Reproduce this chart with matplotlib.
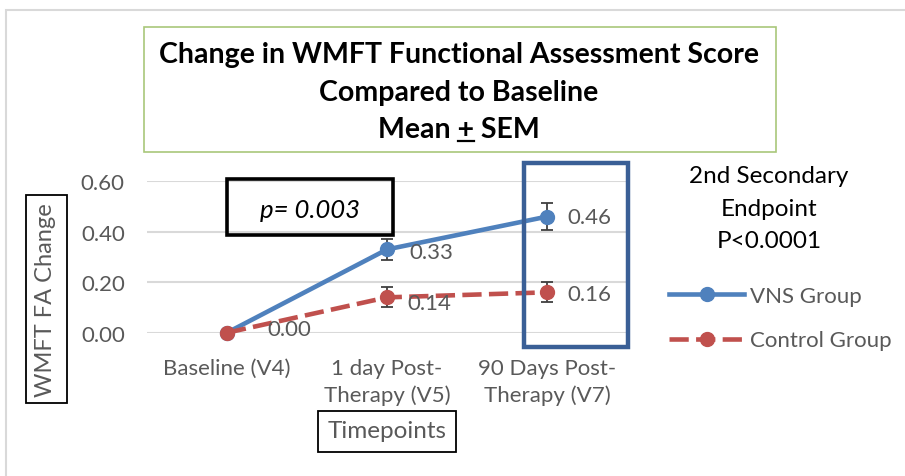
import matplotlib.pyplot as plt
from matplotlib.patches import Rectangle
from matplotlib.lines import Line2D

plt.rcParams['font.family'] = ['Lato', 'DejaVu Sans']

categories = ["Baseline (V4)", "1 day Post-\nTherapy (V5)", "90 Days Post-\nTherapy (V7)"]
vns_mean = [0.00, 0.33, 0.46]
vns_sem = [0.00, 0.043, 0.054]
ctrl_mean = [0.00, 0.14, 0.16]
ctrl_sem = [0.00, 0.04, 0.04]
y_ticks = [0.00, 0.20, 0.40, 0.60]

W, H = 905, 477
BLUE = '#4F81BD'
RED = '#C0504D'
GRAY_TXT = '#595959'


def fx(x):
    return x / W


def fy(y):
    return 1 - y / H


def box(x0, y0, x1, y1, color, lw):
    fig.patches.append(Rectangle((fx(x0), fy(y1)), fx(x1) - fx(x0), fy(y0) - fy(y1),
                                 transform=fig.transFigure, fill=False,
                                 edgecolor=color, linewidth=lw, zorder=5))


fig = plt.figure(figsize=(W / 100, H / 100), dpi=100)
ax = fig.add_axes([fx(147), fy(333.7), fx(627) - fx(147), fy(182.3) - fy(333.7)])

x = list(range(len(categories)))

# error bars first so the markers sit on top
ax.errorbar(x[1:], vns_mean[1:], yerr=vns_sem[1:], fmt='none', ecolor='#404040',
            elinewidth=1.3, capsize=4.5, capthick=1.3, zorder=3, clip_on=False)
ax.errorbar(x[1:], ctrl_mean[1:], yerr=ctrl_sem[1:], fmt='none', ecolor='#404040',
            elinewidth=1.3, capsize=4.5, capthick=1.3, zorder=3, clip_on=False)

vns_line, = ax.plot(x, vns_mean, color=BLUE, lw=3.3, marker='o', ms=10,
                    label='VNS Group', zorder=4, clip_on=False)
ctrl_line, = ax.plot(x, ctrl_mean, color=RED, lw=3.3, marker='o', ms=10,
                     dashes=(4.2, 1.6), label='Control Group', zorder=5, clip_on=False)

# data labels to the right of each point (offsets in points)
lbl_kw = dict(textcoords='offset points', ha='left', va='center',
              fontsize=16, color=GRAY_TXT, zorder=6)
ax.annotate(f"{ctrl_mean[0]:.2f}", (x[0], ctrl_mean[0]), xytext=(29, 2.5), **lbl_kw)
ax.annotate(f"{vns_mean[1]:.2f}", (x[1], vns_mean[1]), xytext=(16, -2), **lbl_kw)
ax.annotate(f"{vns_mean[2]:.2f}", (x[2], vns_mean[2]), xytext=(15, 0), **lbl_kw)
ax.annotate(f"{ctrl_mean[1]:.2f}", (x[1], ctrl_mean[1]), xytext=(15, -4), **lbl_kw)
ax.annotate(f"{ctrl_mean[2]:.2f}", (x[2], ctrl_mean[2]), xytext=(15, -1.2), **lbl_kw)

ax.set_xlim(-0.5, 2.5)
ax.set_ylim(0, 0.6)
ax.set_yticks(y_ticks)
ax.set_yticklabels([f"{v:.2f}" for v in y_ticks])
ax.set_xticks(x)
ax.set_xticklabels(categories, linespacing=1.4)
ax.tick_params(axis='both', length=0, labelsize=16, labelcolor=GRAY_TXT)
ax.tick_params(axis='y', pad=16)
ax.tick_params(axis='x', pad=18)
ax.grid(axis='y', color='#D9D9D9', lw=1.5)
ax.set_axisbelow(True)
for s in ax.spines.values():
    s.set_visible(False)

# outer chart frame
box(6, 11, 960, 520, '#D9D9D9', 1.5)

# title box
title_kw = dict(ha='center', va='center', fontsize=20.5, fontweight='bold')
box(144, 28, 776, 153, '#A9C77A', 1.2)
fig.text(fx(459), fy(55), "Change in WMFT Functional Assessment Score", **title_kw)
fig.text(fx(459), fy(93), "Compared to Baseline", **title_kw)
t3 = fig.text(fx(459), fy(130), "Mean + SEM", **title_kw)

# underline the "+" (plus-or-minus written the old way)
fig.canvas.draw()
r = fig.canvas.get_renderer()
full = t3.get_window_extent(r)
probe = fig.text(0, 0, "Mean +", **title_kw)
w_head = probe.get_window_extent(r).width
probe.set_text("+")
w_plus = probe.get_window_extent(r).width
probe.remove()
ux1 = full.x0 + w_head
ux0 = ux1 - w_plus
uy = full.y0 + 1
fig.lines.append(Line2D([ux0 / W, ux1 / W], [uy / H, uy / H], transform=fig.transFigure,
                        color='black', lw=1.6))

# axis titles in boxes
box(26, 196, 67, 404, 'black', 1.3)
fig.text(fx(46), fy(300), "WMFT FA Change", rotation=90, ha='center', va='center',
         fontsize=17, color=GRAY_TXT)
box(318, 412, 456, 453, 'black', 1.3)
fig.text(fx(387), fy(432), "Timepoints", ha='center', va='center',
         fontsize=17.5, color=GRAY_TXT)

# p-value box
box(227, 180, 393, 236, 'black', 2.6)
fig.text(fx(310), fy(210), "p= 0.003", ha='center', va='center',
         fontsize=18.5, style='italic')

# highlight around the 90-day timepoint
box(524, 164, 628, 348, '#3A5F96', 3.2)

fig.text(fx(769), fy(177), "2nd Secondary", ha='center', va='center', fontsize=17.5)
fig.text(fx(769), fy(210), "Endpoint", ha='center', va='center', fontsize=17.5)
fig.text(fx(769), fy(242), "P<0.0001", ha='center', va='center', fontsize=17.5)

leg = fig.legend(handles=[vns_line, ctrl_line], loc='upper left',
                 bbox_to_anchor=(fx(660), fy(278)), frameon=False,
                 fontsize=16, handlelength=3.4, handletextpad=0.25,
                 labelspacing=1.1, borderaxespad=0)
for t in leg.get_texts():
    t.set_color(GRAY_TXT)

fig.savefig('out.png', dpi=100, facecolor='white')
